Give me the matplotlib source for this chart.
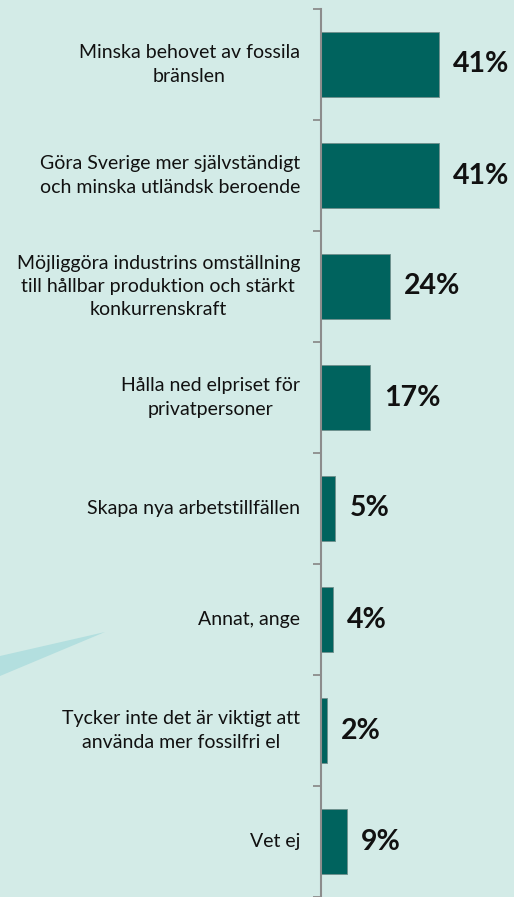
import matplotlib
matplotlib.use("Agg")
import matplotlib.pyplot as plt
from matplotlib.patches import Polygon

categories = [
    "Minska behovet av fossila\nbränslen",
    "Göra Sverige mer självständigt\noch minska utländsk beroende",
    "Möjliggöra industrins omställning\ntill hållbar produktion och stärkt\nkonkurrenskraft",
    "Hålla ned elpriset för\nprivatpersoner",
    "Skapa nya arbetstillfällen",
    "Annat, ange",
    "Tycker inte det är viktigt att\nanvända mer fossilfri el",
    "Vet ej",
]
values = [41, 41, 24, 17, 5, 4, 2, 9]
value_labels = ["41%", "41%", "24%", "17%", "5%", "4%", "2%", "9%"]

bg = "#d3ebe7"
bar_color = "#00635e"

W, H = 514, 897
fig = plt.figure(figsize=(W / 100, H / 100), dpi=100, facecolor=bg)

# decorative shape
tri = Polygon([[0, 1 - 656 / H], [105 / W, 1 - 632 / H], [0, 1 - 676 / H]],
              closed=True, transform=fig.transFigure, facecolor="#b3dfdf",
              edgecolor="none", zorder=0)
fig.patches.append(tri)

ax_left, ax_top, ax_bottom = 321, 9, 897
ax = fig.add_axes([ax_left / W, 1 - ax_bottom / H, (W - ax_left) / W, (ax_bottom - ax_top) / H])
ax.set_facecolor("none")

n = len(categories)
ypos = list(range(n))
ax.barh(ypos, values, height=0.58, color=bar_color, edgecolor="#6f8f8c", linewidth=0.6, zorder=2)
ax.set_ylim(n - 0.5, -0.5)
ax.set_xlim(0, 67)

px = 72 / 100  # points per pixel
for y, v, lab in zip(ypos, values, value_labels):
    ax.annotate(lab, xy=(v, y), xytext=(14 * px, 0), textcoords="offset points",
                va="center", ha="left", fontsize=20.5, fontweight="bold",
                family="Lato", color="#111111")

for y, c in zip(ypos, categories):
    ax.annotate(c, xy=(0, y), xytext=(-21 * px, 0), textcoords="offset points",
                va="center", ha="right", multialignment="center",
                fontsize=14, family="Lato", color="#111111", linespacing=1.45,
                annotation_clip=False)

for s in ["top", "right", "bottom"]:
    ax.spines[s].set_visible(False)
ax.spines["left"].set_color("#8c8c8c")
ax.spines["left"].set_linewidth(1.5)
ax.set_xticks([])
ax.set_yticks([i - 0.5 for i in range(n + 1)])
ax.set_yticklabels([])
ax.tick_params(axis="y", length=6, width=1.3, color="#8c8c8c", direction="out")

fig.savefig("out.png", dpi=100, facecolor=bg)
